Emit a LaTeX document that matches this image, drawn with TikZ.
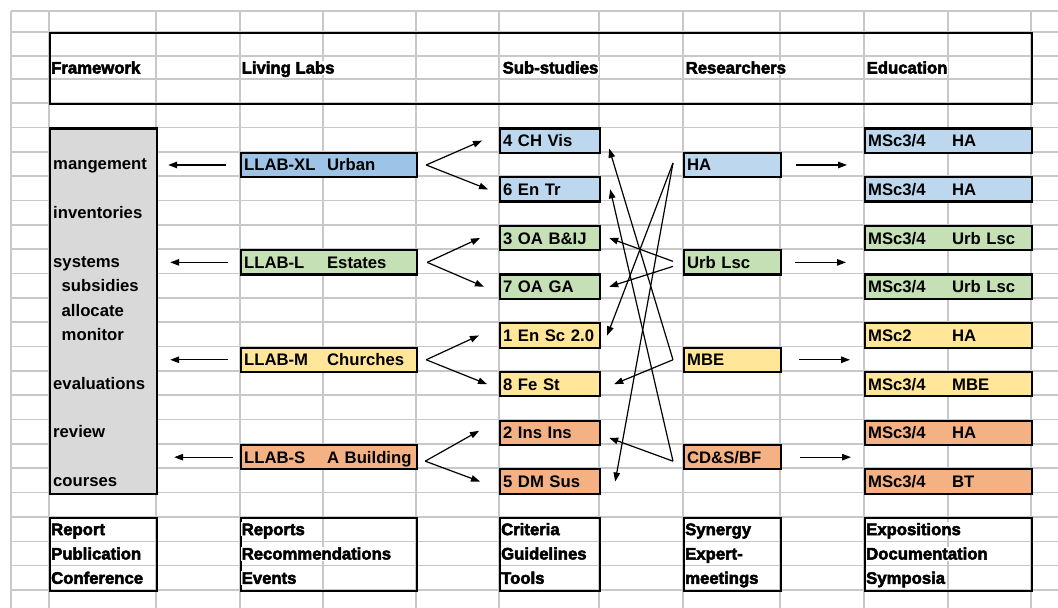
\documentclass[tikz,border=0pt]{standalone}
\usepackage{fontspec}
\setmainfont{Liberation Sans}
\newfontfamily\heavyfont{Liberation Sans}[BoldFeatures={FakeBold=3}]
\usetikzlibrary{arrows.meta,calc}

\definecolor{gridgray}{RGB}{200,200,200}
\definecolor{xlblue}{RGB}{157,195,230}
\definecolor{lblue}{RGB}{189,215,238}
\definecolor{lgreen}{RGB}{197,224,180}
\definecolor{lyellow}{RGB}{255,230,153}
\definecolor{lorange}{RGB}{244,177,131}
\definecolor{lgray}{RGB}{217,217,217}

\begin{document}
\begin{tikzpicture}[x=1pt,y=-1pt,
    font=\fontsize{16.7}{20}\selectfont\bfseries,
    grid/.style={draw=gridgray,line width=1.6pt},
    box/.style={draw,line width=2.2pt,anchor=north west,inner xsep=3pt,inner ysep=0pt,
      minimum height=24.35pt,text height=12pt,text depth=0pt,align=left},
    frame/.style={draw,line width=2.2pt,anchor=north west,inner sep=0pt},
    lab/.style={anchor=west,inner xsep=0.5pt,inner ysep=1pt,text height=12pt,text depth=0pt},
    head/.style={lab,fill=white,font=\fontsize{16.7}{20}\selectfont\heavyfont\bfseries},
    arr/.style={-{Triangle[length=9pt,width=6.5pt]},line width=1.2pt}]

  \useasboundingbox (0,0) rectangle (1058,608);

  % sheet grid
  \foreach \gx in {11,49,156,240,323,416,499,599,683,780,864,948,1031}
    \draw[grid] (\gx,11) -- (\gx,608);
  \foreach \gy in {11,32,56,79}
    \draw[grid] (11,\gy) -- (1058,\gy);
  \foreach \k in {0,...,20}
    \draw[grid] (11,103+24.35*\k) -- (1058,103+24.35*\k);

  % header
  \node[frame,minimum width=982pt,minimum height=71pt] (hdr) at (49,32) {};
  \node[head] (hFw)  at (50.5,67.5) {Framework};
  \node[head] (hLab) at (241,67.5) {Living Labs};
  \node[head] (hSub) at (502,67.5) {Sub-studies};
  \node[head] (hRes) at (685,67.5) {Researchers};
  \node[head] (hEdu) at (866,67.5) {Education};

  % framework column
  \node[frame,fill=lgray,minimum width=107pt,minimum height=365.25pt] (fw) at (49,127.35) {};
  \node[lab] (fMan) at (52.5,163.9) {mangement};
  \node[lab] (fInv) at (52.5,212.6) {inventories};
  \node[lab] (fSys) at (52.5,261.3) {systems};
  \node[lab] (fSub) at (61,285.6) {subsidies};
  \node[lab] (fAll) at (61,310.0) {allocate};
  \node[lab] (fMon) at (61,334.3) {monitor};
  \node[lab] (fEva) at (52.5,383.0) {evaluations};
  \node[lab] (fRev) at (52.5,431.7) {review};
  \node[lab] (fCou) at (52.5,480.4) {courses};

  % living labs
  \node[box,fill=xlblue,text width=170pt] (xl) at (240,151.7) {\makebox[83pt][l]{LLAB-XL}Urban};
  \node[box,fill=lgreen,text width=170pt] (lL) at (240,249.1) {\makebox[83pt][l]{LLAB-L}Estates};
  \node[box,fill=lyellow,text width=170pt] (lM) at (240,346.5) {\makebox[83pt][l]{LLAB-M}Churches};
  \node[box,fill=lorange,text width=170pt] (lS) at (240,443.9) {\makebox[83pt][l]{LLAB-S}A Building};

  % sub-studies
  \node[box,fill=lblue,text width=94pt] (s4) at (499,127.35) {4 CH Vis};
  \node[box,fill=lblue,text width=94pt] (s6) at (499,176.05) {6 En Tr};
  \node[box,fill=lgreen,text width=94pt] (s3) at (499,224.75) {3 OA B\&IJ};
  \node[box,fill=lgreen,text width=94pt] (s7) at (499,273.45) {7 OA GA};
  \node[box,fill=lyellow,text width=94pt] (s1) at (499,322.15) {1 En Sc 2.0};
  \node[box,fill=lyellow,text width=94pt] (s8) at (499,370.85) {8 Fe St};
  \node[box,fill=lorange,text width=94pt] (s2) at (499,419.55) {2 Ins Ins};
  \node[box,fill=lorange,text width=94pt] (s5) at (499,468.25) {5 DM Sus};

  % researchers
  \node[box,fill=lblue,text width=91pt] (rHA) at (683,151.7) {HA};
  \node[box,fill=lgreen,text width=91pt] (rUL) at (683,249.1) {Urb Lsc};
  \node[box,fill=lyellow,text width=91pt] (rMB) at (683,346.5) {MBE};
  \node[box,fill=lorange,text width=91pt] (rCD) at (683,443.9) {CD\&S/BF};

  % education
  \node[box,fill=lblue,text width=161pt] (e1) at (864,127.35) {\makebox[84pt][l]{MSc3/4}HA};
  \node[box,fill=lblue,text width=161pt] (e2) at (864,176.05) {\makebox[84pt][l]{MSc3/4}HA};
  \node[box,fill=lgreen,text width=161pt] (e3) at (864,224.75) {\makebox[84pt][l]{MSc3/4}Urb Lsc};
  \node[box,fill=lgreen,text width=161pt] (e4) at (864,273.45) {\makebox[84pt][l]{MSc3/4}Urb Lsc};
  \node[box,fill=lyellow,text width=161pt] (e5) at (864,322.15) {\makebox[84pt][l]{MSc2}HA};
  \node[box,fill=lyellow,text width=161pt] (e6) at (864,370.85) {\makebox[84pt][l]{MSc3/4}MBE};
  \node[box,fill=lorange,text width=161pt] (e7) at (864,419.55) {\makebox[84pt][l]{MSc3/4}HA};
  \node[box,fill=lorange,text width=161pt] (e8) at (864,468.25) {\makebox[84pt][l]{MSc3/4}BT};

  % outputs
  \node[frame,minimum width=107pt,minimum height=73.05pt] (oFw) at (49,516.95) {};
  \node[frame,minimum width=176pt,minimum height=73.05pt] (oLab) at (240,516.95) {};
  \node[frame,minimum width=100pt,minimum height=73.05pt] (oSub) at (499,516.95) {};
  \node[frame,minimum width=97pt,minimum height=73.05pt] (oRes) at (683,516.95) {};
  \node[frame,minimum width=167pt,minimum height=73.05pt] (oEdu) at (864,516.95) {};
  \node[head] at (50.5,529.1) {Report};
  \node[head] at (50.5,553.5) {Publication};
  \node[head] at (50.5,577.8) {Conference};
  \node[head] at (241,529.1) {Reports};
  \node[head] at (241,553.5) {Recommendations};
  \node[head] at (241,577.8) {Events};
  \node[head] at (500.5,529.1) {Criteria};
  \node[head] at (500.5,553.5) {Guidelines};
  \node[head] at (500.5,577.8) {Tools};
  \node[head] at (684.5,529.1) {Synergy};
  \node[head] at (684.5,553.5) {Expert-};
  \node[head] at (684.5,577.8) {meetings};
  \node[head] at (865.5,529.1) {Expositions};
  \node[head] at (865.5,553.5) {Documentation};
  \node[head] at (865.5,577.8) {Symposia};

  % labs to framework
  \draw[arr] ([xshift=-14pt]xl.west) -- ($(fw.east |- xl.west)+(10,0)$);
  \draw[arr] ([xshift=-12pt]lL.west) -- ($(fw.east |- lL.west)+(12,0)$);
  \draw[arr] ([xshift=-12pt]lM.west) -- ($(fw.east |- lM.west)+(12,0)$);
  \draw[arr] ([xshift=-7pt]lS.west) -- ($(fw.east |- lS.west)+(16,0)$);

  % labs to sub-studies
  \draw[arr] ([xshift=8pt]xl.east) -- ([xshift=-17pt]s4.west);
  \draw[arr] ([xshift=8pt]xl.east) -- ([xshift=-11pt]s6.west);
  \draw[arr] ([xshift=9pt]lL.east) -- ([xshift=-19pt]s3.west);
  \draw[arr] ([xshift=9pt]lL.east) -- ([xshift=-15pt]s7.west);
  \draw[arr] ([xshift=8pt]lM.east) -- ([xshift=-20pt]s1.west);
  \draw[arr] ([xshift=8pt]lM.east) -- ([xshift=-12pt]s8.west);
  \draw[arr] ([xshift=7pt,yshift=-4pt]lS.east) -- ([xshift=-20pt,yshift=2pt]s2.west);
  \draw[arr] ([xshift=7pt,yshift=-4pt]lS.east) -- ([xshift=-19pt]s5.west);

  % researchers to sub-studies
  \draw[arr] ([xshift=-10pt,yshift=2pt]rHA.west) -- ([xshift=6pt]s1.east);
  \draw[arr] ([xshift=-10pt,yshift=2pt]rHA.west) -- ([xshift=14pt]s5.east);
  \draw[arr] ([xshift=-10pt,yshift=1pt]rUL.west) -- ([xshift=8pt]s3.east);
  \draw[arr] ([xshift=-10pt,yshift=-4pt]rUL.west) -- ([xshift=8pt]s7.east);
  \draw[arr] ([xshift=-10pt]rMB.west) -- ([xshift=13pt]s8.east);
  \draw[arr] ([xshift=-10pt]rMB.west) -- ([xshift=8pt,yshift=-8pt]s4.east);
  \draw[arr] ([xshift=-10pt,yshift=-4pt]rCD.west) -- ([xshift=8pt,yshift=-5pt]s2.east);
  \draw[arr] ([xshift=-10pt,yshift=-4pt]rCD.west) -- ([xshift=9pt]s6.east);

  % researchers to education
  \draw[arr] ([xshift=14pt]rHA.east) -- ($(e1.west |- rHA.east)+(-17,0)$);
  \draw[arr] ([xshift=13pt]rUL.east) -- ($(e1.west |- rUL.east)+(-18,0)$);
  \draw[arr] ([xshift=17pt]rMB.east) -- ($(e1.west |- rMB.east)+(-14,0)$);
  \draw[arr] ([xshift=18pt]rCD.east) -- ($(e1.west |- rCD.east)+(-13,0)$);
\end{tikzpicture}
\end{document}
